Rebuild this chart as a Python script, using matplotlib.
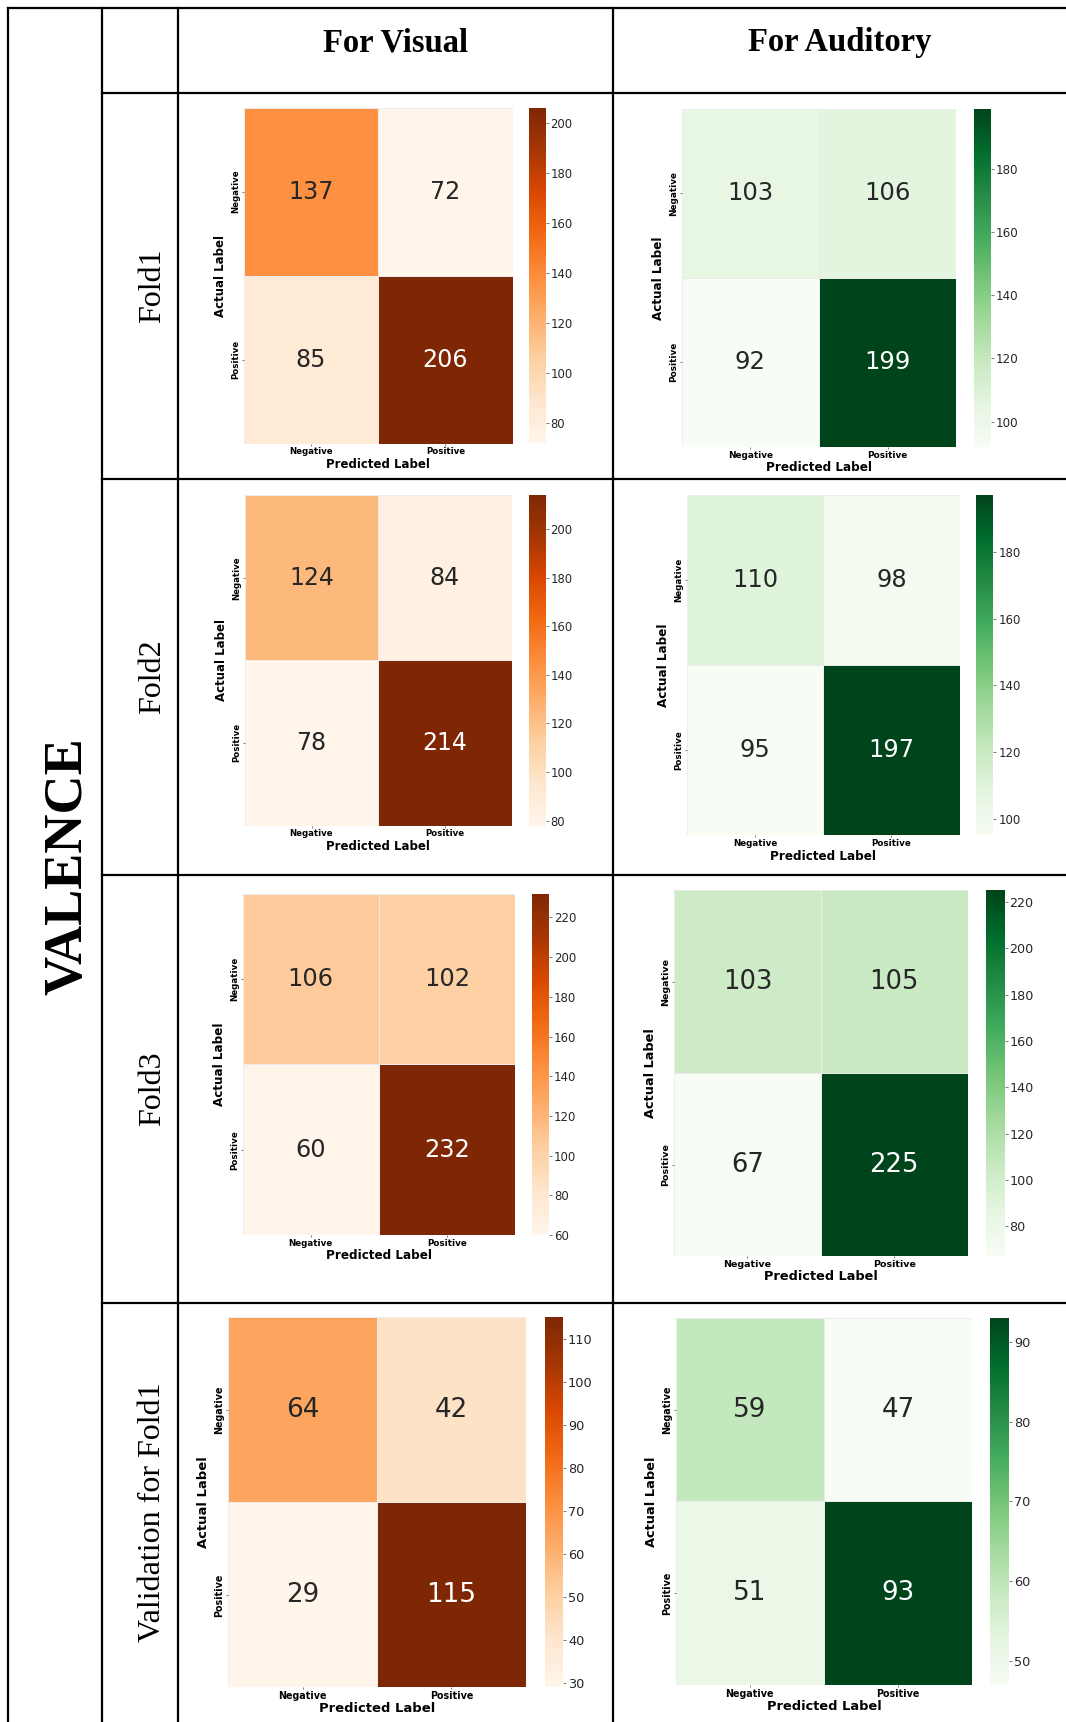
import numpy as np
import matplotlib
matplotlib.use("Agg")
import matplotlib.pyplot as plt
import seaborn as sns

# ---- confusion-matrix data (rows: actual, cols: predicted) ----
class_labels = ["Negative", "Positive"]
row_titles = ["Fold1", "Fold2", "Fold3", "Validation for Fold1"]
column_titles = ["For Visual", "For Auditory"]
side_title = "VALENCE"

visual_cm = [
    [[137, 72], [85, 206]],
    [[124, 84], [78, 214]],
    [[106, 102], [60, 232]],
    [[64, 42], [29, 115]],
]
auditory_cm = [
    [[103, 106], [92, 199]],
    [[110, 98], [95, 197]],
    [[103, 105], [67, 225]],
    [[59, 47], [51, 93]],
]

# ---- page layout in pixels ----
W, H = 1066, 1722
fig = plt.figure(figsize=(W / 100, H / 100), dpi=100)
fig.patch.set_facecolor("white")

# heatmap box and colorbar box (x0, y0, x1, y1) for every cell of the table
visual_boxes = [
    ((243.7, 107.6, 512.7, 443.5), (529.0, 107.6, 545.6, 443.5)),
    ((244.8, 495.1, 511.6, 825.5), (529.0, 495.1, 545.6, 825.5)),
    ((242.6, 893.6, 514.9, 1235.0), (532.4, 893.6, 548.9, 1235.0)),
    ((228.3, 1317.4, 525.8, 1687.3), (544.5, 1317.4, 563.2, 1687.3)),
]
auditory_boxes = [
    ((681.7, 108.7, 956.2, 446.8), (973.7, 108.7, 991.3, 446.8)),
    ((687.2, 495.1, 959.5, 835.4), (976.0, 495.1, 993.5, 835.4)),
    ((674.0, 890.5, 967.5, 1256.3), (985.8, 890.5, 1004.5, 1256.3)),
    ((675.5, 1317.8, 972.4, 1685.0), (990.4, 1317.8, 1009.0, 1685.0)),
]

# table grid
col_x = [7.7, 102.0, 178.0, 613.0, W]
row_y = [7.7, 92.5, 478.5, 875.0, 1303.0, H]

bg = fig.add_axes([0, 0, 1, 1])
bg.set_xlim(0, W)
bg.set_ylim(H, 0)
bg.axis("off")

lw = 1.6
# outer top and left border
bg.plot([col_x[0], W], [row_y[0], row_y[0]], color="black", lw=lw, solid_capstyle="projecting")
bg.plot([col_x[0], col_x[0]], [row_y[0], H], color="black", lw=lw, solid_capstyle="projecting")
# inner vertical rules
for x in col_x[1:4]:
    bg.plot([x, x], [row_y[0], H], color="black", lw=lw, solid_capstyle="projecting")
# horizontal rules (not crossing the merged side column)
for y in row_y[1:5]:
    bg.plot([col_x[1], W], [y, y], color="black", lw=lw, solid_capstyle="projecting")

# column headings
serif = ["Liberation Serif", "DejaVu Serif"]
for title, (xa, xb) in zip(column_titles, [(col_x[2], col_x[3]), (col_x[3], col_x[4])]):
    bg.text((xa + xb) / 2, 51.0, title, ha="center", va="baseline",
            fontsize=23.5, fontweight="bold", family=serif)

# row headings
for i, title in enumerate(row_titles):
    yc = (row_y[i + 1] + row_y[i + 2]) / 2
    bg.text(152.5, yc, title, ha="center", va="center", rotation=90,
            fontsize=23, family=serif)

# merged side heading
bg.text(68.0, 866.0, side_title, ha="center", va="center", rotation=90,
        fontsize=39, fontweight="bold", family=serif)


def px_axes(box):
    x0, y0, x1, y1 = box
    return fig.add_axes([x0 / W, 1 - y1 / H, (x1 - x0) / W, (y1 - y0) / H])


def draw_cm(cm, cmap, hbox, cbox):
    ax = px_axes(hbox)
    cax = px_axes(cbox)
    s = (hbox[2] - hbox[0]) / 275.0
    sns.heatmap(np.array(cm), annot=True, fmt="d", cmap=cmap, ax=ax, cbar_ax=cax,
                linewidths=0.6, linecolor="#ececec",
                annot_kws={"size": 17.5 * s},
                xticklabels=class_labels, yticklabels=class_labels)
    ax.set_xlabel("Predicted Label", fontsize=8.7 * s, fontweight="bold", labelpad=1)
    ax.set_ylabel("Actual Label", fontsize=8.7 * s, fontweight="bold", labelpad=3)
    ax.tick_params(length=1.5, width=0.6, pad=1.2, labelsize=6.4 * s, color="#666666")
    for t in ax.get_xticklabels():
        t.set_fontweight("bold")
    for t in ax.get_yticklabels():
        t.set_fontweight("bold")
        t.set_rotation(90)
        t.set_va("center")
    cax.tick_params(length=2, width=0.6, pad=1.5, labelsize=8.6 * s,
                    labelcolor="#262626", color="#666666")


for cm, (hb, cb) in zip(visual_cm, visual_boxes):
    draw_cm(cm, "Oranges", hb, cb)
for cm, (hb, cb) in zip(auditory_cm, auditory_boxes):
    draw_cm(cm, "Greens", hb, cb)

fig.savefig("out.png", dpi=100, facecolor="white")
